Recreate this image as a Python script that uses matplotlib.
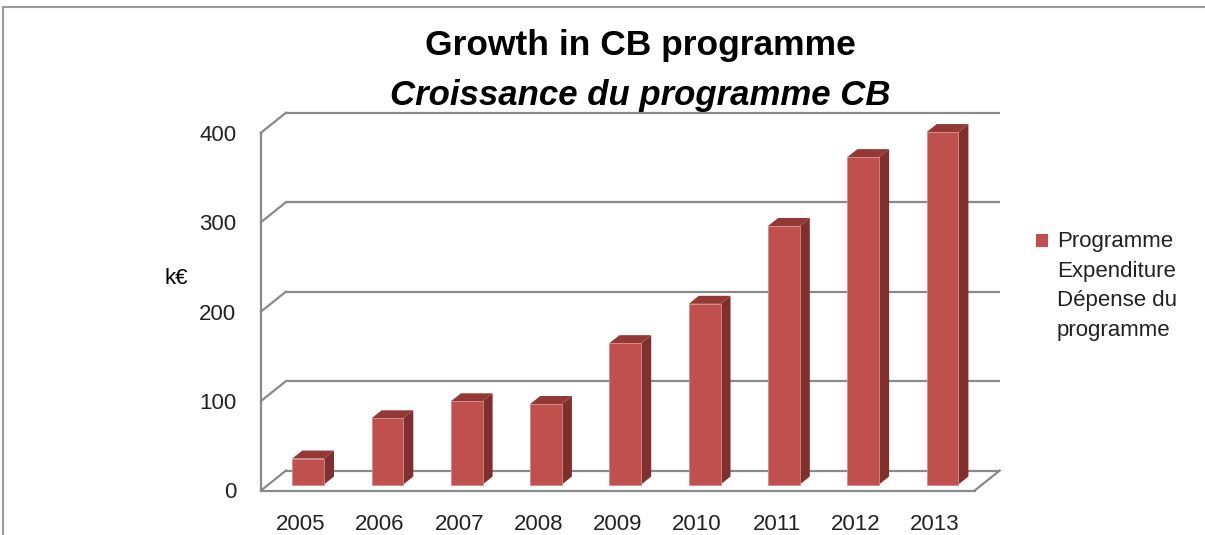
import matplotlib
matplotlib.use("Agg")
import matplotlib.pyplot as plt
from matplotlib.patches import Polygon, Rectangle
from matplotlib.lines import Line2D

# ---- data ----
years = ["2005", "2006", "2007", "2008", "2009", "2010", "2011", "2012", "2013"]
expenditure = [29, 74, 93, 90, 158, 202, 289, 366, 394]
yticks = [0, 100, 200, 300, 400]
title_en = "Growth in CB programme"
title_fr = "Croissance du programme CB"
legend_label = "Programme\nExpenditure\nDépense du\nprogramme"
ylabel = "k€"

plt.rcParams['font.family'] = ['Liberation Sans', 'DejaVu Sans']

W, H = 1205, 535
fig = plt.figure(figsize=(W / 100, H / 100), dpi=100)

# pixel mapping of the front plane
x0_px, px_per_cat = 261.0, 79.3
y0_px, px_per_val = 490.5, 0.8945
xlim = (-0.6, 9.0)
ylim = (-5, 430)
left_px = x0_px + (xlim[0] + 0.5) * px_per_cat
right_px = x0_px + (xlim[1] + 0.5) * px_per_cat
bot_px = y0_px - ylim[0] * px_per_val
top_px = y0_px - ylim[1] * px_per_val
ax = fig.add_axes([left_px / W, 1 - bot_px / H, (right_px - left_px) / W, (bot_px - top_px) / H])
ax.set_xlim(*xlim)
ax.set_ylim(*ylim)
ax.patch.set_alpha(0)
for s in ax.spines.values():
    s.set_visible(False)

DX = 25 / px_per_cat   # depth offset in category units
DY = 20 / px_per_val   # depth offset in value units
n = len(years)
grid_c = '#8A8A8A'

# back wall gridlines and side-wall diagonals
for v in yticks:
    ax.plot([-0.5 + DX, n - 0.5 + DX], [v + DY, v + DY], color=grid_c, lw=1.6, zorder=1, solid_capstyle='butt')
    ax.plot([-0.5, -0.5 + DX], [v, v + DY], color=grid_c, lw=1.6, zorder=1)
# floor front edge and right diagonal
ax.plot([-0.5, n - 0.5], [0, 0], color=grid_c, lw=1.6, zorder=1)
ax.plot([n - 0.5, n - 0.5 + DX], [0, DY], color=grid_c, lw=1.6, zorder=1)
# left front axis
ax.plot([-0.5, -0.5], [0, yticks[-1]], color=grid_c, lw=1.6, zorder=1)

# bars
front_d, depth = 0.3, 0.4
bw = 0.4
xs = [i + front_d * DX for i in range(n)]
base = front_d * DY
ax.bar(xs, expenditure, width=bw, bottom=base, color='#C0504D', edgecolor='#D38B89',
       linewidth=0.6, zorder=3)
for x, v in zip(xs, expenditure):
    xl, xr = x - bw / 2, x + bw / 2
    top = base + v
    side = Polygon([(xr, base), (xr + depth * DX, base + depth * DY),
                    (xr + depth * DX, top + depth * DY), (xr, top)],
                   closed=True, facecolor='#7F302E', edgecolor='none', zorder=2)
    cap = Polygon([(xl, top), (xr, top), (xr + depth * DX, top + depth * DY),
                   (xl + depth * DX, top + depth * DY)],
                  closed=True, facecolor='#943836', edgecolor='none', zorder=2)
    ax.add_patch(side)
    ax.add_patch(cap)

# ticks
ax.set_yticks(yticks)
ax.set_yticklabels([str(t) for t in yticks], fontsize=16, color='#222222')
ax.set_xticks(range(n))
ax.set_xticklabels(years, fontsize=16, color='#222222')
ax.tick_params(axis='y', length=0, pad=12)
ax.tick_params(axis='x', length=0, pad=14)

# titles and labels
fig.text(640 / W, 1 - 45 / H, title_en, ha='center', va='center', fontsize=25.5,
         fontweight='bold', color='black')
fig.text(640 / W, 1 - 95 / H, title_fr, ha='center', va='center', fontsize=25,
         fontweight='bold', fontstyle='italic', color='black')
fig.text(176 / W, 1 - 278 / H, ylabel, ha='center', va='center', fontsize=16, color='black')

# legend
fig.add_artist(Rectangle((1036 / W, 1 - 247 / H), 12 / W, 13 / H, transform=fig.transFigure,
                         facecolor='#C0504D', edgecolor='none'))
fig.text(1057 / W, 1 - 286 / H, legend_label, ha='left', va='center', fontsize=16,
         linespacing=1.55, color='#222222')

# outer border
fig.add_artist(Line2D([3 / W, 1], [1 - 7 / H, 1 - 7 / H], transform=fig.transFigure,
                      color='#9A9A9A', lw=1.5))
fig.add_artist(Line2D([3 / W, 3 / W], [1 - 7 / H, 0], transform=fig.transFigure,
                      color='#9A9A9A', lw=1.5))

fig.savefig("out.png", dpi=100)
